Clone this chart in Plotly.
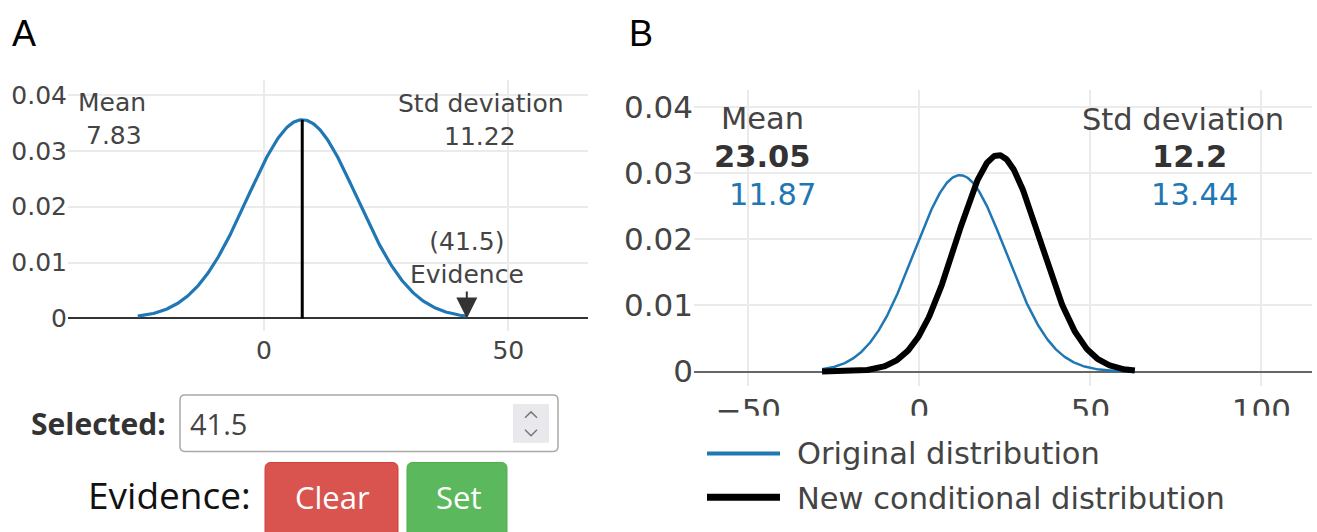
import numpy as np
import plotly.graph_objects as go

W, H = 1317, 532

# ---------------- data ----------------
# Panel A: prior distribution of the selected node
A_MEAN = 7.83
A_STD = 11.22
A_EVIDENCE = 41.5
A_SIGMAS = 3.0

# Panel B: original vs. new conditional distribution
B_ORIG_MEAN = 11.87
B_ORIG_STD = 13.44
B_NEW_MEAN = 23.05
B_NEW_STD = 12.2
B_X_START = -28.45
B_X_END = 63.0

A_X_TICKS = [0, 50]
A_X_TICK_LABELS = ["0", "50"]
Y_TICKS = [0, 0.01, 0.02, 0.03, 0.04]
Y_TICK_LABELS = ["0", "0.01", "0.02", "0.03", "0.04"]
B_X_TICKS = [-50, 0, 50, 100]
B_X_TICK_LABELS = ["\u221250", "0", "50", "100"]
LEGEND_LABELS = ["Original distribution", "New conditional distribution"]
SELECTED_VALUE = "41.5"

BLUE = "#1f77b4"
FONT = "DejaVu Sans"
UI_FONT = "Open Sans"
A_SIZE = 25
B_SIZE = 30.5


def normal_pdf(x, m, s):
    return np.exp(-0.5 * ((x - m) / s) ** 2) / (s * np.sqrt(2 * np.pi))


def px(x):
    return x / W


def py(y):
    return 1 - y / H


a_x = np.linspace(A_MEAN - A_SIGMAS * A_STD, A_MEAN + A_SIGMAS * A_STD, 300)
b_x = np.linspace(B_X_START, B_X_END, 400)

fig = go.Figure()

# Panel A traces
fig.add_trace(go.Scatter(x=a_x, y=normal_pdf(a_x, A_MEAN, A_STD), mode="lines",
                         line=dict(color=BLUE, width=3.2), xaxis="x", yaxis="y",
                         showlegend=False, hoverinfo="skip"))
fig.add_trace(go.Scatter(x=[A_MEAN, A_MEAN], y=[0, normal_pdf(A_MEAN, A_MEAN, A_STD)],
                         mode="lines", line=dict(color="black", width=3),
                         xaxis="x", yaxis="y", showlegend=False, hoverinfo="skip"))

# Panel B traces
fig.add_trace(go.Scatter(x=b_x, y=normal_pdf(b_x, B_ORIG_MEAN, B_ORIG_STD), mode="lines",
                         line=dict(color=BLUE, width=2.5), xaxis="x2", yaxis="y2",
                         name=LEGEND_LABELS[0], showlegend=False, hoverinfo="skip"))
fig.add_trace(go.Scatter(x=b_x, y=normal_pdf(b_x, B_NEW_MEAN, B_NEW_STD), mode="lines",
                         line=dict(color="black", width=6), xaxis="x2", yaxis="y2",
                         name=LEGEND_LABELS[1], showlegend=False, hoverinfo="skip"))

grid = "#ebebeb"
fig.update_layout(
    width=W, height=H,
    margin=dict(l=0, r=0, t=0, b=0),
    paper_bgcolor="white", plot_bgcolor="white",
    font=dict(family=FONT, color="#444"),
    xaxis=dict(domain=[px(68), px(588)], range=[-40.1, 66.3], anchor="y",
               tickvals=A_X_TICKS, ticktext=A_X_TICK_LABELS, showgrid=True,
               gridcolor=grid, gridwidth=1.5, zeroline=False, showline=False,
               tickfont=dict(size=A_SIZE, color="#444"), fixedrange=True,
               ticklabelstandoff=2),
    yaxis=dict(domain=[py(332), py(80)], range=[-0.00217, 0.0426], anchor="x",
               tickvals=Y_TICKS, ticktext=Y_TICK_LABELS, showgrid=True,
               gridcolor=grid, gridwidth=1.5, zeroline=True, zerolinecolor="#333",
               zerolinewidth=2, showline=False,
               tickfont=dict(size=A_SIZE, color="#444"), fixedrange=True),
    xaxis2=dict(domain=[px(694), px(1312)], range=[-65.9, 114.8], anchor="y2",
                tickvals=B_X_TICKS, ticktext=B_X_TICK_LABELS, showgrid=True,
                gridcolor=grid, gridwidth=1.5, zeroline=False, showline=False,
                tickfont=dict(size=31, color="#444"), fixedrange=True,
                ticklabelstandoff=3),
    yaxis2=dict(domain=[py(388), py(90)], range=[-0.0022, 0.0425], anchor="x2",
                tickvals=Y_TICKS, ticktext=Y_TICK_LABELS, showgrid=True,
                gridcolor=grid, gridwidth=1.5, zeroline=True, zerolinecolor="#666",
                zerolinewidth=2, showline=False,
                tickfont=dict(size=31, color="#444"), fixedrange=True),
)

ann = []


def text(x, y, s, size, color="#444", xanchor="center", family=FONT, bold=False):
    if bold:
        s = "<b>" + s + "</b>"
    ann.append(dict(x=px(x), y=py(y), xref="paper", yref="paper", text=s,
                    showarrow=False, xanchor=xanchor, yanchor="middle",
                    font=dict(size=size, color=color, family=family)))


# panel letters
text(24, 33, "A", 36, "black", family="Liberation Sans")
text(641, 33, "B", 36, "black", family="Liberation Sans")

# Panel A labels
text(112, 102, "Mean", A_SIZE)
text(114, 136, f"{A_MEAN:.2f}", A_SIZE)
text(481, 103, "Std deviation", A_SIZE)
text(480, 137, f"{A_STD:.2f}", A_SIZE)

# Evidence arrow
ann.append(dict(x=A_EVIDENCE, y=0, xref="x", yref="y",
                text=f"({A_EVIDENCE})<br>Evidence", showarrow=True,
                arrowhead=2, arrowsize=2.1, arrowwidth=2, arrowcolor="#333",
                ax=0, ay=-27, yanchor="bottom",
                font=dict(size=A_SIZE, color="#444", family=FONT)))

# Panel B labels
text(762, 118, "Mean", B_SIZE)
text(762, 157, f"{B_NEW_MEAN:.2f}", B_SIZE, "#333", bold=True)
text(772, 195, f"{B_ORIG_MEAN:.2f}", B_SIZE, BLUE)
text(1183, 119, "Std deviation", B_SIZE)
text(1189, 157, f"{B_NEW_STD}", B_SIZE, "#333", bold=True)
text(1194, 195, f"{B_ORIG_STD:.2f}", B_SIZE, BLUE)

# Legend (manual, for long line samples)
text(795, 456, LEGEND_LABELS[0], B_SIZE, "#444", xanchor="left")
text(795, 501, LEGEND_LABELS[1], B_SIZE, "#444", xanchor="left")

# UI widgets text
text(168, 426, "Selected:", 30, "#333", xanchor="right", family=UI_FONT, bold=True)
text(188, 426, SELECTED_VALUE, 29, "#444", xanchor="left", family=UI_FONT)
text(253, 497, "Evidence:", 37, "#111", xanchor="right", family=UI_FONT)
text(332, 500, "Clear", 31, "white", family=UI_FONT)
text(458, 500, "Set", 31, "white", family=UI_FONT)

fig.update_layout(annotations=ann)


def rrect(x0, y0, x1, y1, r):
    pts = [
        f"M {px(x0 + r)},{py(y0)}", f"L {px(x1 - r)},{py(y0)}",
        f"Q {px(x1)},{py(y0)} {px(x1)},{py(y0 + r)}", f"L {px(x1)},{py(y1 - r)}",
        f"Q {px(x1)},{py(y1)} {px(x1 - r)},{py(y1)}", f"L {px(x0 + r)},{py(y1)}",
        f"Q {px(x0)},{py(y1)} {px(x0)},{py(y1 - r)}", f"L {px(x0)},{py(y0 + r)}",
        f"Q {px(x0)},{py(y0)} {px(x0 + r)},{py(y0)}", "Z",
    ]
    return " ".join(pts)


def poly(points):
    return "M " + " L ".join(f"{px(x)},{py(y)}" for x, y in points)


shapes = []
# white cover that clips the lower part of panel B tick labels
shapes.append(dict(type="rect", xref="paper", yref="paper", x0=px(640), x1=px(1317),
                   y0=py(532), y1=py(418), fillcolor="white", line=dict(width=0),
                   layer="above"))
# legend line samples
shapes.append(dict(type="line", xref="paper", yref="paper", x0=px(707), x1=px(780),
                   y0=py(456), y1=py(456), line=dict(color=BLUE, width=4), layer="above"))
shapes.append(dict(type="line", xref="paper", yref="paper", x0=px(707), x1=px(780),
                   y0=py(500), y1=py(500), line=dict(color="black", width=7), layer="above"))
# input box
shapes.append(dict(type="path", xref="paper", yref="paper", path=rrect(180, 397, 558, 454, 5),
                   fillcolor="white", line=dict(color="#a9a9a9", width=1.5), layer="above"))
shapes.append(dict(type="rect", xref="paper", yref="paper", x0=px(513), x1=px(549),
                   y0=py(445), y1=py(406), fillcolor="#e9e9ed", line=dict(width=0),
                   layer="above"))
shapes.append(dict(type="path", xref="paper", yref="paper",
                   path=poly([(525, 420), (531, 414), (537, 420)]),
                   line=dict(color="#777", width=1.5), layer="above"))
shapes.append(dict(type="path", xref="paper", yref="paper",
                   path=poly([(525, 432), (531, 438), (537, 432)]),
                   line=dict(color="#777", width=1.5), layer="above"))
# buttons
shapes.append(dict(type="path", xref="paper", yref="paper", path=rrect(265, 465, 398, 545, 6),
                   fillcolor="#d9534f", line=dict(color="#d43f3a", width=1), layer="below"))
shapes.append(dict(type="path", xref="paper", yref="paper", path=rrect(407, 465, 507, 545, 6),
                   fillcolor="#5cb85c", line=dict(color="#4cae4c", width=1), layer="below"))

fig.update_layout(shapes=shapes)

fig.write_html("out.html")
